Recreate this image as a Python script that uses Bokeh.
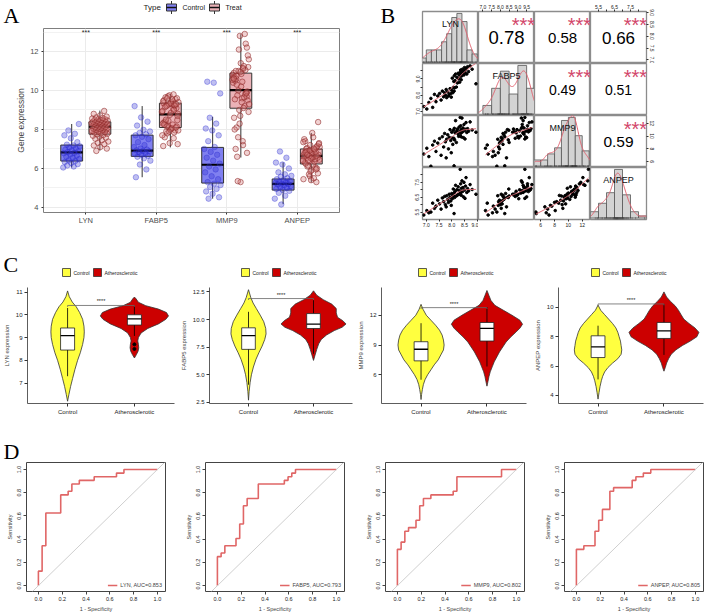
import numpy as np
from bokeh.plotting import figure
from bokeh.layouts import row, column
from bokeh.models import (Range1d, FixedTicker, Label, Legend, LegendItem, LinearAxis,
                          Slope, PrintfTickFormatter)
from bokeh.embed import file_html
from bokeh.resources import INLINE

FONT = "Liberation Sans"
SERIF = "Liberation Serif"

genes = ["LYN", "FABP5", "MMP9", "ANPEP"]

# ---------------- Panel A data ----------------
ctrl_LYN = [6.05, 6.10, 6.15, 6.22, 6.28, 6.33, 6.38, 6.42, 6.48, 6.55, 6.60, 6.66, 6.72, 6.78, 6.80,
            6.84, 6.88, 6.92, 6.96, 7.02, 7.08, 7.14, 7.18, 7.22, 7.35, 7.55, 7.70, 7.78, 7.95, 8.28]
ctrl_FABP5 = [5.55, 5.95, 6.20, 6.40, 6.52, 6.60, 6.65, 6.70, 6.75, 6.80, 6.84, 6.88, 6.90, 6.93, 6.97,
              7.02, 7.10, 7.20, 7.35, 7.50, 7.62, 7.70, 7.75, 7.82, 7.90, 7.98, 8.20, 8.40, 8.62, 9.20]
ctrl_MMP9 = [4.45, 4.52, 4.70, 4.82, 4.95, 5.05, 5.15, 5.22, 5.30, 5.45, 5.60, 5.80, 5.95, 6.10, 6.25,
             6.40, 6.55, 6.70, 6.85, 7.00, 7.10, 7.40, 7.70, 7.95, 8.05, 8.30, 8.60, 9.85, 10.40, 10.45]
ctrl_ANPEP = [4.15, 4.45, 4.60, 4.75, 4.85, 4.90, 4.95, 5.00, 5.05, 5.10, 5.15, 5.18, 5.20, 5.22, 5.25,
              5.28, 5.32, 5.36, 5.40, 5.45, 5.50, 5.58, 5.62, 5.70, 5.80, 6.00, 6.20, 6.30, 6.55, 6.87]

# treat samples (same samples feed the pairs plot of panel B)
treat_LYN = [6.90, 7.02, 7.10, 7.18, 7.25, 7.32, 7.38, 7.45, 7.52, 7.58,
             7.63, 7.68, 7.72, 7.75, 7.78, 7.80, 7.84, 7.87, 7.90, 7.93,
             7.96, 7.98, 8.00, 8.02, 8.04, 8.06, 8.08, 8.09, 8.10, 8.11,
             8.13, 8.15, 8.18, 8.20, 8.22, 8.25, 8.27, 8.29, 8.31, 8.33,
             8.34, 8.35, 8.36, 8.37, 8.38, 8.40, 8.42, 8.44, 8.46, 8.48,
             8.50, 8.52, 8.54, 8.56, 8.59, 8.62, 8.66, 8.72, 8.80, 8.95]
treat_FABP5 = [7.30, 7.15, 7.55, 7.80, 7.25, 8.05, 7.60, 7.95, 8.10, 7.70,
               8.25, 7.90, 8.15, 8.00, 8.35, 7.85, 8.20, 7.95, 8.05, 8.40,
               8.10, 7.88, 8.30, 9.05, 8.15, 8.48, 8.85, 8.25, 9.20, 8.45,
               8.90, 9.30, 8.50, 9.10, 8.75, 9.35, 9.00, 9.25, 8.80, 9.40,
               9.15, 9.55, 9.30, 8.95, 9.45, 9.20, 9.60, 9.35, 9.50, 9.25,
               9.70, 9.40, 9.55, 9.65, 9.30, 9.75, 9.45, 9.80, 9.60, 8.70]
treat_MMP9 = [7.20, 8.10, 6.80, 5.30, 8.60, 9.20, 7.60, 8.90, 9.60, 7.00,
              9.90, 8.30, 10.40, 9.10, 6.60, 9.50, 10.20, 8.00, 9.80, 11.00,
              9.30, 7.40, 10.60, 9.70, 8.70, 10.90, 9.65, 5.35, 11.20, 9.40,
              10.50, 12.40, 9.00, 10.80, 11.10, 10.30, 9.95, 11.40, 10.70, 12.90,
              10.00, 11.60, 10.45, 11.00, 9.85, 12.80, 10.65, 11.25, 9.75, 11.80,
              10.85, 9.55, 11.05, 12.10, 10.55, 11.15, 10.75, 12.20, 10.95, 10.60]
treat_ANPEP = [5.30, 5.60, 5.45, 5.50, 6.10, 5.75, 5.90, 6.30, 6.05, 5.70,
               6.45, 6.20, 6.55, 6.00, 5.85, 6.60, 6.35, 6.15, 6.70, 6.50,
               6.25, 5.95, 6.75, 6.40, 6.62, 7.05, 6.55, 5.40, 6.80, 6.48,
               6.90, 7.30, 6.58, 7.00, 6.65, 7.20, 6.68, 6.95, 6.72, 8.38,
               6.78, 7.40, 6.85, 6.63, 7.10, 7.60, 6.88, 7.15, 6.52, 7.50,
               6.98, 6.42, 7.25, 7.82, 6.82, 7.08, 6.92, 7.35, 7.02, 6.70]

# box statistics (LYN, FABP5, MMP9, ANPEP)
ctrl_lo = [6.05, 5.55, 4.45, 4.17]
ctrl_q1 = [6.38, 6.62, 5.25, 4.89]
ctrl_med = [6.82, 6.91, 6.19, 5.21]
ctrl_q3 = [7.20, 7.71, 7.08, 5.46]
ctrl_hi = [8.28, 9.20, 8.65, 6.31]
treat_lo = [6.92, 7.08, 6.56, 5.28]
treat_q1 = [7.76, 8.10, 9.09, 6.23]
treat_med = [8.14, 8.77, 10.02, 6.64]
treat_q3 = [8.39, 9.35, 10.89, 7.00]
treat_hi = [8.97, 9.82, 12.89, 7.82]
sig_A = ["***", "***", "***", "***"]
A_groups = ["Control", "Treat"]

# ---------------- Panel B data ----------------
corr_cells = [(0, 1), (0, 2), (0, 3), (1, 2), (1, 3), (2, 3)]
corr_text = ["0.78", "0.58", "0.66", "0.49", "0.51", "0.59"]
corr_sig = "***"

# ---------------- Panel C data ----------------
C_ylabels = ["LYN expression", "FABP5 expression", "MMP9 expression", "ANPEP expression"]
C_groups = ["Control", "Atherosclerotic"]
vio_ctrl_y = {
    "LYN": [6.2, 6.5, 6.85, 7.2, 7.6, 8.0, 8.33, 8.7, 9.0, 9.25, 9.5, 9.8, 10.1, 10.35, 10.56, 10.8, 11.05],
    "FABP5": [2.7, 3.5, 4.3, 5.0, 5.7, 6.4, 7.0, 7.6, 8.2, 8.7, 9.2, 9.8, 10.4, 11.0, 11.5, 12.0, 12.4, 12.7],
    "MMP9": [3.5, 4.0, 4.5, 5.0, 5.5, 6.0, 6.5, 7.0, 7.5, 8.0, 8.5, 9.0, 9.5, 10.0, 10.5, 11.0, 11.5, 12.0, 12.6, 13.1],
    "ANPEP": [3.75, 4.2, 4.6, 5.0, 5.3, 5.6, 5.9, 6.2, 6.5, 6.8, 7.1, 7.4, 7.7, 8.0, 8.3, 8.6, 8.9, 9.2, 9.5, 9.8, 10.15],
}
vio_ctrl_w = {
    "LYN": [0.0, 0.02, 0.045, 0.075, 0.11, 0.15, 0.19, 0.225, 0.245, 0.25, 0.245, 0.225, 0.18, 0.13, 0.07, 0.025, 0.0],
    "FABP5": [0.0, 0.01, 0.025, 0.045, 0.075, 0.115, 0.16, 0.21, 0.25, 0.27, 0.265, 0.235, 0.18, 0.12, 0.07, 0.035, 0.015, 0.0],
    "MMP9": [0.0, 0.008, 0.02, 0.035, 0.06, 0.1, 0.15, 0.2, 0.26, 0.3, 0.34, 0.35, 0.34, 0.32, 0.28, 0.22, 0.15, 0.08, 0.03, 0.0],
    "ANPEP": [0.0, 0.015, 0.03, 0.05, 0.07, 0.1, 0.15, 0.22, 0.3, 0.35, 0.36, 0.35, 0.34, 0.32, 0.3, 0.27, 0.22, 0.16, 0.1, 0.04, 0.0],
}
vio_ath_y = {
    "LYN": [8.1, 8.25, 8.4, 8.55, 8.7, 8.85, 9.0, 9.2, 9.4, 9.6, 9.8, 9.95, 10.1, 10.25, 10.4, 10.55, 10.7, 10.78],
    "FABP5": [6.3, 6.8, 7.3, 7.8, 8.2, 8.6, 9.0, 9.3, 9.6, 9.9, 10.2, 10.6, 11.0, 11.4, 11.8, 12.2, 12.6],
    "MMP9": [4.85, 5.3, 5.8, 6.3, 6.8, 7.3, 7.8, 8.3, 8.8, 9.3, 9.8, 10.3, 10.7, 11.1, 11.5, 12.0, 12.5, 13.0, 13.5, 14.0, 14.5],
    "ANPEP": [5.65, 5.9, 6.2, 6.5, 6.8, 7.1, 7.4, 7.7, 8.0, 8.3, 8.6, 8.9, 9.2, 9.5, 9.8, 10.1, 10.4, 10.7, 11.05],
}
vio_ath_w = {
    "LYN": [0.0, 0.03, 0.055, 0.065, 0.06, 0.05, 0.06, 0.1, 0.2, 0.36, 0.47, 0.51, 0.48, 0.36, 0.17, 0.06, 0.025, 0.0],
    "FABP5": [0.0, 0.025, 0.05, 0.08, 0.12, 0.2, 0.32, 0.44, 0.5, 0.45, 0.37, 0.35, 0.35, 0.28, 0.15, 0.05, 0.0],
    "MMP9": [0.0, 0.015, 0.03, 0.05, 0.08, 0.11, 0.15, 0.19, 0.24, 0.29, 0.36, 0.44, 0.5, 0.54, 0.5, 0.38, 0.25, 0.12, 0.06, 0.03, 0.0],
    "ANPEP": [0.0, 0.02, 0.04, 0.07, 0.11, 0.18, 0.28, 0.4, 0.5, 0.53, 0.47, 0.38, 0.3, 0.26, 0.22, 0.17, 0.1, 0.04, 0.0],
}
vc_ctrl_lo = [7.3, 4.1, 5.5, 5.09]
vc_ctrl_q1 = [8.45, 7.3, 7.4, 6.58]
vc_ctrl_med = [9.08, 8.55, 8.57, 7.31]
vc_ctrl_q3 = [9.42, 9.25, 9.33, 8.06]
vc_ctrl_hi = [10.3, 10.7, 11.2, 8.75]
vc_ath_lo = [9.07, 6.9, 6.83, 6.76]
vc_ath_q1 = [9.55, 9.19, 9.4, 7.88]
vc_ath_med = [9.82, 9.58, 10.67, 8.4]
vc_ath_q3 = [10.0, 10.54, 11.27, 8.97]
vc_ath_hi = [10.4, 11.75, 12.83, 10.23]
vc_ath_outliers_LYN = [8.7, 8.5]
C_bracket_y = [10.41, 11.9, 12.77, 10.23]
C_sig = "****"

# ---------------- Panel D data (counts out of 32) ----------------
roc_n = 32
roc_fpr = {
    "LYN": [0, 0, 1, 1, 2, 2, 6, 6, 8, 8, 9, 9, 11, 11, 15, 15, 21, 21, 23, 23, 32],
    "FABP5": [0, 0, 1, 1, 2, 2, 5, 5, 6, 6, 7, 7, 8, 8, 11, 11, 18, 18, 19, 19, 20, 20, 21, 21, 32],
    "MMP9": [0, 0, 1, 1, 2, 2, 3, 3, 5, 5, 6, 6, 7, 7, 9, 9, 15, 15, 16, 16, 28, 28, 32],
    "ANPEP": [0, 0, 2, 2, 5, 5, 6, 6, 7, 7, 9, 9, 10, 10, 15, 15, 16, 16, 18, 18, 20, 20, 32],
}
roc_tpr = {
    "LYN": [0, 4, 4, 11, 11, 20, 20, 25, 25, 26, 26, 28, 28, 29, 29, 30, 30, 31, 31, 32, 32],
    "FABP5": [0, 8, 8, 9, 9, 11, 11, 13, 13, 17, 17, 22, 22, 24, 24, 28, 28, 29, 29, 30, 30, 31, 31, 32, 32],
    "MMP9": [0, 10, 10, 12, 12, 15, 15, 16, 16, 18, 18, 22, 22, 24, 24, 25, 25, 26, 26, 30, 30, 32, 32],
    "ANPEP": [0, 10, 10, 11, 11, 15, 15, 18, 18, 21, 21, 26, 26, 27, 27, 29, 29, 30, 30, 31, 31, 32, 32],
}
roc_labels = ["LYN, AUC=0.853", "FABP5, AUC=0.793", "MMP9, AUC=0.802", "ANPEP, AUC=0.805"]


# ---------------- helpers ----------------
def jitter(n, phase, half):
    return np.array([(((i * 0.6180339887 + phase) % 1.0) - 0.5) * 2 * half for i in range(n)])


def kde(vals, grid):
    v = np.asarray(vals, float)
    n = len(v)
    sd = v.std(ddof=1)
    q75, q25 = np.percentile(v, [75, 25])
    bw = 0.9 * min(sd, (q75 - q25) / 1.34) * n ** -0.2
    z = (grid[:, None] - v[None, :]) / bw
    return np.exp(-0.5 * z ** 2).sum(axis=1) / (n * bw * np.sqrt(2 * np.pi))


def lowess(x, y, f=2 / 3, iters=3):
    x = np.asarray(x, float)
    y = np.asarray(y, float)
    o = np.argsort(x)
    xs, ys = x[o], y[o]
    n = len(xs)
    r = int(np.ceil(f * n))
    h = np.array([np.sort(np.abs(xs - xs[i]))[r - 1] for i in range(n)])
    h = np.maximum(h, 1e-9)
    delta = np.ones(n)
    fit = np.zeros(n)
    for _ in range(iters + 1):
        for i in range(n):
            u = np.clip(np.abs(xs - xs[i]) / h[i], 0, 1)
            w = (1 - u ** 3) ** 3 * delta
            sw = w.sum()
            xm = (w * xs).sum() / sw
            ym = (w * ys).sum() / sw
            sxx = (w * (xs - xm) ** 2).sum()
            b = (w * (xs - xm) * (ys - ym)).sum() / sxx if sxx > 1e-12 else 0.0
            fit[i] = ym + b * (xs[i] - xm)
        res = ys - fit
        s = np.median(np.abs(res))
        if s <= 0:
            break
        d = np.clip(res / (6 * s), -1, 1)
        delta = (1 - d ** 2) ** 2
    return xs, fit


def header(w, h):
    """A strip whose frame covers the whole canvas; its ranges are in pixels (y downward)."""
    p = figure(width=w, height=h, x_range=Range1d(0, w), y_range=Range1d(h, 0),
               min_border_left=0, min_border_right=0, min_border_top=0, min_border_bottom=0,
               toolbar_location=None, output_backend="svg", x_axis_location=None, y_axis_location=None)
    p.outline_line_color = None
    p.grid.visible = False
    return p


def put_text(p, x, y, text, size, font=FONT, color="#222222", align="left"):
    p.add_layout(Label(x=x, y=y, text=text, text_font=font, text_font_size=size, text_color=color,
                       text_align=align, text_baseline="middle"))


# ================= Panel A =================
headA = header(370, 28)
put_text(headA, 3, 14.5, "A", "22px", font=SERIF, color="black")
put_text(headA, 143, 7, "Type", "8px")
A_key_x = [166, 209]
A_key_fill = ["#8080f0", "#ebb2b7"]
for kx, kf, lab in zip(A_key_x, A_key_fill, A_groups):
    headA.segment(x0=[kx + 5, kx + 5], x1=[kx + 5, kx + 5], y0=[0.5, 10.5], y1=[3.5, 13.5],
                  line_color="#333333", line_width=1)
    headA.quad(left=[kx], right=[kx + 10], top=[3.5], bottom=[10.5], fill_color=kf,
               line_color="#333333", line_width=1)
    headA.segment(x0=[kx], x1=[kx + 10], y0=[7], y1=[7], line_color="#111111", line_width=1.4)
    put_text(headA, kx + 16, 7, lab, "7px")

pA = figure(width=370, height=224, x_range=Range1d(0.4, 4.6), y_range=Range1d(3.74, 13.18),
            min_border_left=43, min_border_right=31, min_border_top=0, min_border_bottom=40,
            toolbar_location=None, output_backend="svg")
pA.outline_line_color = "#7f7f7f"
pA.outline_line_width = 1
pA.xaxis.ticker = FixedTicker(ticks=[1, 2, 3, 4])
pA.xaxis.major_label_overrides = {i + 1: g for i, g in enumerate(genes)}
yt = FixedTicker(ticks=[4, 6, 8, 10, 12], minor_ticks=[5, 7, 9, 11, 13])
pA.yaxis.ticker = yt
pA.xgrid.ticker = FixedTicker(ticks=[1, 2, 3, 4])
pA.ygrid.ticker = yt
pA.grid.grid_line_color = "#ebebeb"
pA.ygrid.minor_grid_line_color = "#f2f2f2"
for ax in pA.axis:
    ax.axis_line_color = None
    ax.major_tick_line_color = "#333333"
    ax.major_tick_out = 2
    ax.major_tick_in = 0
    ax.minor_tick_line_color = None
    ax.major_label_text_font = FONT
    ax.major_label_text_font_size = "7.5px"
    ax.major_label_text_color = "#4d4d4d"
    ax.major_label_standoff = 1
pA.yaxis.axis_label = "Gene expression"
pA.yaxis.axis_label_text_font = FONT
pA.yaxis.axis_label_text_font_size = "8.5px"
pA.yaxis.axis_label_text_font_style = "normal"
pA.yaxis.axis_label_standoff = 1

cats = np.arange(1, 5)
xc = cats - 0.2
xt = cats + 0.2
bw = 0.155
pA.segment(x0=xc, x1=xc, y0=ctrl_lo, y1=ctrl_hi, line_color="#333333", line_width=1)
pA.segment(x0=xt, x1=xt, y0=treat_lo, y1=treat_hi, line_color="#333333", line_width=1)
pA.quad(left=xc - bw, right=xc + bw, bottom=ctrl_q1, top=ctrl_q3,
        fill_color=A_key_fill[0], line_color="#333333", line_width=1)
pA.quad(left=xt - bw, right=xt + bw, bottom=treat_q1, top=treat_q3,
        fill_color=A_key_fill[1], line_color="#333333", line_width=1)
pA.segment(x0=xc - bw, x1=xc + bw, y0=ctrl_med, y1=ctrl_med, line_color="black", line_width=2.2)
pA.segment(x0=xt - bw, x1=xt + bw, y0=treat_med, y1=treat_med, line_color="black", line_width=2.2)

ctrl_all = [ctrl_LYN, ctrl_FABP5, ctrl_MMP9, ctrl_ANPEP]
treat_all = [treat_LYN, treat_FABP5, treat_MMP9, treat_ANPEP]
for k in range(4):
    cv = ctrl_all[k]
    tv = treat_all[k]
    pA.scatter(xc[k] + jitter(len(cv), 0.13 * k, 0.12), cv, size=5.5,
               fill_color="#2a2ad0", fill_alpha=0.3, line_color="#2a2ad0", line_alpha=0.35)
    pA.scatter(xt[k] + jitter(len(tv), 0.29 + 0.17 * k, 0.12), tv, size=5.5,
               fill_color="#d87a7a", fill_alpha=0.35, line_color="#8b2323", line_alpha=0.55)
    pA.add_layout(Label(x=cats[k], y=13.0, text=sig_A[k], text_font=FONT, text_font_size="7px",
                        text_align="center", text_baseline="middle", text_color="#222222"))

# wrap pA in a row so the column does not align its frame with the header strip
colA = column(headA, row(pA, spacing=0), spacing=0)

# ================= Panel B =================
treat = {"LYN": treat_LYN, "FABP5": treat_FABP5, "MMP9": treat_MMP9, "ANPEP": treat_ANPEP}
B_ranges = {"LYN": (6.85, 9.05), "FABP5": (6.75, 9.95), "MMP9": (5.1, 13.2), "ANPEP": (5.0, 8.5)}
B_bins = {"LYN": [6.8, 7.0, 7.2, 7.4, 7.6, 7.8, 8.0, 8.2, 8.4, 8.6, 8.8, 9.0],
          "FABP5": [7.0, 7.5, 8.0, 8.5, 9.0, 9.5, 10.0],
          "MMP9": [5, 6, 7, 8, 9, 10, 11, 12, 13],
          "ANPEP": [5.0, 5.5, 6.0, 6.5, 7.0, 7.5, 8.0, 8.5]}
corr_size = {"0.78": "18.5px", "0.58": "15px", "0.66": "17px", "0.49": "14px", "0.51": "14px", "0.59": "15.5px"}
CW, CH = 56, 52
BL, BR, BT, BB = 10, 62, 11, 33

stripB = header(42, 252)
put_text(stripB, 10, 15, "B", "22px", font=SERIF, color="black")


def b_axis(p, side, ticks, shown, fmt):
    ax = LinearAxis(ticker=FixedTicker(ticks=ticks), formatter=PrintfTickFormatter(format=fmt))
    ax.major_label_overrides = {t: "" for t in ticks if t not in shown}
    ax.axis_line_color = None
    ax.major_tick_line_color = "#333333"
    ax.major_tick_out = 2
    ax.major_tick_in = 0
    ax.minor_tick_line_color = None
    ax.major_label_standoff = 1
    ax.major_label_text_font = FONT
    ax.major_label_text_font_size = "5px"
    ax.major_label_text_color = "#222222"
    if side in ("left", "right"):
        ax.major_label_orientation = "vertical"
    p.add_layout(ax, side)


def bcell(i, j):
    bl = BL if j == 0 else 0
    br = BR if j == 3 else 0
    bt = BT if i == 0 else 0
    bb = BB if i == 3 else 0
    gx, gy = genes[j], genes[i]
    xr = Range1d(*B_ranges[gx])
    if i == j:
        vals = np.array(treat[gx])
        edges = np.array(B_bins[gx], float)
        counts, _ = np.histogram(vals, bins=edges)
        dens = counts / (len(vals) * np.diff(edges))
        m = dens.max()
        yr = Range1d(-0.03 * m, 1.04 * m)
    else:
        yr = Range1d(*B_ranges[gy])
    p = figure(width=CW + bl + br, height=CH + bt + bb, x_range=xr, y_range=yr,
               min_border_left=bl, min_border_right=br, min_border_top=bt, min_border_bottom=bb,
               toolbar_location=None, output_backend="svg", x_axis_location=None, y_axis_location=None)
    p.grid.visible = False
    p.outline_line_color = "#8c8c8c"
    p.outline_line_width = 1.3
    if i == j:
        p.quad(left=edges[:-1], right=edges[1:], bottom=0, top=dens,
               fill_color="#d3d3d3", line_color="#555555", line_width=0.8)
        grid = np.linspace(B_ranges[gx][0], B_ranges[gx][1], 200)
        p.line(grid, kde(vals, grid), line_color="#e0606e", line_width=1)
        p.segment(x0=vals, x1=vals, y0=-0.03 * m, y1=0.02 * m, line_color="#333333", line_width=0.4)
        p.add_layout(Label(x=CW / 2, y=39.5, x_units="screen", y_units="screen", text=gx,
                           text_font=FONT, text_font_size="9px", text_align="center",
                           text_baseline="alphabetic", text_color="#111111"))
    elif i > j:
        xv, yv = treat[gx], treat[gy]
        p.scatter(xv, yv, size=2.6, color="black")
        sx, sy = lowess(xv, yv)
        p.line(sx, sy, line_color="#e0707a", line_width=1)
    else:
        k = corr_cells.index((i, j))
        p.add_layout(Label(x=CW / 2, y=CH / 2, x_units="screen", y_units="screen", text=corr_text[k],
                           text_font=FONT, text_font_size=corr_size[corr_text[k]], text_align="center",
                           text_baseline="middle", text_color="black"))
        p.add_layout(Label(x=CW + 0.5, y=39, x_units="screen", y_units="screen", text=corr_sig,
                           text_font=FONT, text_font_size="20px", text_align="right",
                           text_baseline="alphabetic", text_color="#d2466a"))
    # outer axes
    if (i, j) == (0, 1):
        b_axis(p, "above", [7.0, 7.5, 8.0, 8.5, 9.0, 9.5], [7.0, 7.5, 8.0, 8.5, 9.0, 9.5], "%.1f")
    if (i, j) == (0, 3):
        b_axis(p, "above", [5.5, 6.0, 6.5, 7.0, 7.5, 8.0], [5.5, 6.5, 7.5], "%.1f")
        b_axis(p, "right", [7.0, 7.5, 8.0, 8.5, 9.0], [7.0, 7.5, 8.0, 8.5, 9.0], "%.1f")
    if (i, j) == (2, 3):
        b_axis(p, "right", [6, 8, 10, 12], [6, 8, 10, 12], "%d")
    if (i, j) == (1, 0):
        b_axis(p, "left", [7.0, 7.5, 8.0, 8.5, 9.0, 9.5], [7.0, 8.0, 9.0], "%.1f")
    if (i, j) == (3, 0):
        b_axis(p, "left", [5.5, 6.0, 6.5, 7.0, 7.5, 8.0], [5.5, 6.5, 7.5], "%.1f")
        b_axis(p, "below", [7.0, 7.5, 8.0, 8.5, 9.0], [7.0, 7.5, 8.0, 8.5, 9.0], "%.1f")
    if (i, j) == (3, 2):
        b_axis(p, "below", [6, 8, 10, 12], [6, 8, 10, 12], "%d")
    return p


gridB = column([row([bcell(i, j) for j in range(4)], spacing=0) for i in range(4)], spacing=0)
rowTop = row(colA, stripB, gridB, spacing=0)

# ================= Panel C =================
C_left = [22, 28, 23, 19]
C_width = [152, 147, 149, 153]
C_ylim = [(6.1, 11.2), (2.4, 12.9), (3.1, 14.8), (3.45, 11.35)]
C_yticks = [[7, 8, 9, 10, 11], [2.5, 5.0, 7.5, 10.0, 12.5], [6, 9, 12], [4, 6, 8, 10]]
C_yfmt = ["%d", "%.1f", "%d", "%d"]
C_leg_x = [62, 241, 418, 591]
YELLOW = "#ffff3f"
RED = "#cc0000"

headC = header(708, 30)
put_text(headC, 3, 12, "C", "22px", font=SERIF, color="black")
for lx in C_leg_x:
    headC.quad(left=[lx, lx + 31], right=[lx + 8, lx + 39], top=[16, 16], bottom=[24, 24],
               fill_color=[YELLOW, RED], line_color="#333333", line_width=0.8)
    put_text(headC, lx + 11, 20, C_groups[0], "5px")
    put_text(headC, lx + 42, 20, C_groups[1], "5px")


def cfig(k):
    g = genes[k]
    L, W = C_left[k], C_width[k]
    R = 177 - L - W
    p = figure(width=177, height=158, x_range=Range1d(0.4, 2.6), y_range=Range1d(*C_ylim[k]),
               min_border_left=L, min_border_right=R, min_border_top=5, min_border_bottom=37,
               toolbar_location=None, output_backend="svg")
    p.grid.visible = False
    p.outline_line_color = None
    p.xaxis.ticker = FixedTicker(ticks=[1, 2])
    p.xaxis.major_label_overrides = {1: C_groups[0], 2: C_groups[1]}
    p.yaxis.ticker = FixedTicker(ticks=C_yticks[k])
    p.yaxis.formatter = PrintfTickFormatter(format=C_yfmt[k])
    p.yaxis.axis_label = C_ylabels[k]
    for ax in p.axis:
        ax.axis_line_color = "#333333"
        ax.axis_line_width = 0.8
        ax.major_tick_line_color = "#333333"
        ax.major_tick_out = 3
        ax.major_tick_in = 0
        ax.minor_tick_line_color = None
        ax.major_label_text_font = FONT
        ax.major_label_text_font_size = "6px"
        ax.major_label_text_color = "#222222"
        ax.major_label_standoff = 2
        ax.axis_label_text_font = FONT
        ax.axis_label_text_font_size = "6px"
        ax.axis_label_text_font_style = "normal"
        ax.axis_label_standoff = 3
    for c, ys, ws, col in [(1, vio_ctrl_y[g], vio_ctrl_w[g], YELLOW), (2, vio_ath_y[g], vio_ath_w[g], RED)]:
        ys = np.array(ys, float)
        ws = np.array(ws, float)
        px = np.concatenate([c - ws, (c + ws)[::-1]])
        py = np.concatenate([ys, ys[::-1]])
        p.patch(px, py, fill_color=col, line_color="#333333", line_width=0.8)
    xs = np.array([1, 2])
    lo = [vc_ctrl_lo[k], vc_ath_lo[k]]
    q1 = [vc_ctrl_q1[k], vc_ath_q1[k]]
    md = [vc_ctrl_med[k], vc_ath_med[k]]
    q3 = [vc_ctrl_q3[k], vc_ath_q3[k]]
    hi = [vc_ctrl_hi[k], vc_ath_hi[k]]
    hb = 0.105
    p.segment(x0=xs, x1=xs, y0=lo, y1=hi, line_color="black", line_width=0.8)
    p.quad(left=xs - hb, right=xs + hb, bottom=q1, top=q3, fill_color="white",
           line_color="#222222", line_width=0.8)
    p.segment(x0=xs - hb, x1=xs + hb, y0=md, y1=md, line_color="black", line_width=1.3)
    if g == "LYN":
        p.scatter([2] * len(vc_ath_outliers_LYN), vc_ath_outliers_LYN, size=3, color="black")
    yb = C_bracket_y[k]
    tip = 0.012 * (C_ylim[k][1] - C_ylim[k][0])
    p.line([1, 1, 2, 2], [yb - tip, yb, yb, yb - tip], line_color="#666666", line_width=0.8)
    p.add_layout(Label(x=1.5, y=yb, y_offset=4, text=C_sig, text_font=FONT, text_font_size="5.5px",
                       text_align="center", text_baseline="middle", text_color="#222222"))
    return p


rowC = row([cfig(k) for k in range(4)], spacing=0)

# ================= Panel D =================
D_left = [26, 28, 31, 33]
DW = 139
headD = header(708, 22)
put_text(headD, 3, 10.5, "D", "22px", font=SERIF, color="black")


def dfig(k):
    g = genes[k]
    L = D_left[k]
    R = 177 - L - DW
    p = figure(width=177, height=152, x_range=Range1d(-0.1, 1.068), y_range=Range1d(-0.05, 1.06),
               min_border_left=L, min_border_right=R, min_border_top=0, min_border_bottom=21,
               toolbar_location=None, output_backend="svg")
    p.grid.visible = False
    p.outline_line_color = "#444444"
    p.outline_line_width = 1
    tk = [0.0, 0.2, 0.4, 0.6, 0.8, 1.0]
    p.xaxis.ticker = FixedTicker(ticks=tk)
    p.yaxis.ticker = FixedTicker(ticks=tk)
    p.xaxis.formatter = PrintfTickFormatter(format="%.1f")
    p.yaxis.formatter = PrintfTickFormatter(format="%.1f")
    p.xaxis.axis_label = "1 - Specificity"
    p.yaxis.axis_label = "Sensitivity"
    p.yaxis.major_label_orientation = "vertical"
    for ax in p.axis:
        ax.axis_line_color = None
        ax.major_tick_line_color = "#444444"
        ax.major_tick_out = 3
        ax.major_tick_in = 0
        ax.minor_tick_line_color = None
        ax.major_label_text_font = FONT
        ax.major_label_text_font_size = "5.5px"
        ax.major_label_text_color = "#222222"
        ax.major_label_standoff = 2
        ax.axis_label_text_font = FONT
        ax.axis_label_text_font_size = "5.5px"
        ax.axis_label_text_font_style = "normal"
        ax.axis_label_standoff = 2
    p.add_layout(Slope(gradient=1, y_intercept=0, line_color="#cfcfcf", line_width=1))
    fpr = np.array(roc_fpr[g], float) / roc_n
    tpr = np.array(roc_tpr[g], float) / roc_n
    r = p.line(fpr, tpr, line_color="#e06666", line_width=1.6)
    leg = Legend(items=[LegendItem(label=roc_labels[k], renderers=[r])], location="bottom_right",
                 glyph_width=10, glyph_height=6, label_text_font=FONT, label_text_font_size="5.5px",
                 label_height=6, label_width=10, label_standoff=3, padding=0, margin=3,
                 border_line_color=None, background_fill_alpha=0)
    p.add_layout(leg)
    return p


rowD = row([dfig(k) for k in range(4)], spacing=0)

layout = column(rowTop, headC, rowC, headD, rowD, spacing=0)
open("out.html", "w").write(file_html(layout, INLINE))
